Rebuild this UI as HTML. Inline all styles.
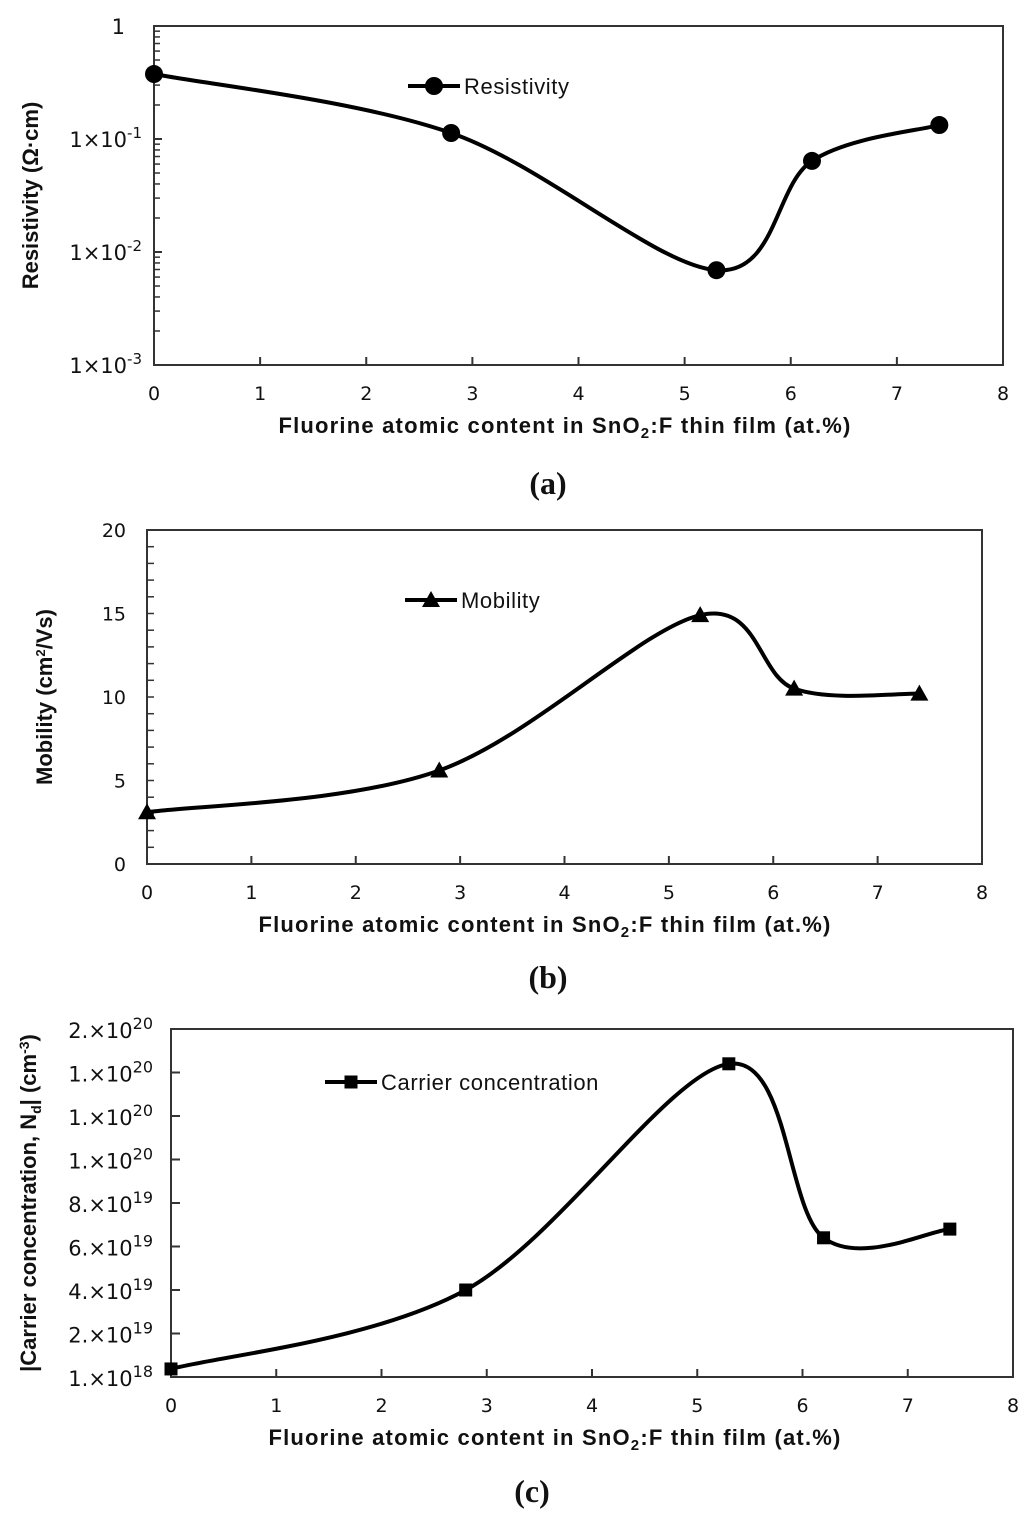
<!DOCTYPE html>
<html><head><meta charset="utf-8"><style>
html,body{margin:0;padding:0;background:#fff;}
svg{display:block;}
text{fill:#111;}
.tick{font-family:"DejaVu Sans","Liberation Sans",sans-serif;font-size:19px;}
.tickb{font-family:"DejaVu Sans","Liberation Sans",sans-serif;font-size:21px;}
.title{font-family:"Liberation Sans",sans-serif;font-weight:bold;font-size:22px;letter-spacing:1.2px;}
.ytitle{font-family:"Liberation Sans",sans-serif;font-weight:bold;font-size:22px;}
.leg{font-family:"Liberation Sans",sans-serif;font-size:22px;letter-spacing:0.6px;}
.pl{font-family:"Liberation Serif",serif;font-weight:bold;font-size:32px;}
</style></head><body>
<svg id="fig" width="1024" height="1518" viewBox="0 0 1024 1518"></svg>
<script>
// shared x data
const xValues = [0, 2.8, 5.3, 6.2, 7.4];
const xTicks = [0,1,2,3,4,5,6,7,8];
// panel a
const resistivity = [0.376, 0.113, 0.0069, 0.064, 0.133];
const resTicks = ["1","1×10-1","1×10-2","1×10-3"];
// panel b
const mobility = [3.1, 5.6, 14.9, 10.5, 10.2];
const mobTicks = [0,5,10,15,20];
// panel c (units of 1e19)
const carrier = [0.37, 4.0, 14.4, 6.4, 6.8];
const carTickVals = [0,2,4,6,8,10,12,14,16];
const carTickLabels = [["1.×10","18"],["2.×10","19"],["4.×10","19"],["6.×10","19"],["8.×10","19"],["1.×10","20"],["1.×10","20"],["1.×10","20"],["2.×10","20"]];

const NS="http://www.w3.org/2000/svg";
const svg=document.getElementById('fig');
function mk(tag,attrs,parent){const e=document.createElementNS(NS,tag);for(const k in attrs)e.setAttribute(k,attrs[k]);(parent||svg).appendChild(e);return e;}

function smoothPath(pts){
  let d=`M${pts[0][0]},${pts[0][1]}`;
  for(let i=0;i<pts.length-1;i++){
    const p0=pts[Math.max(0,i-1)],p1=pts[i],p2=pts[i+1],p3=pts[Math.min(pts.length-1,i+2)];
    const c1=[p1[0]+(p2[0]-p0[0])/6,p1[1]+(p2[1]-p0[1])/6];
    const c2=[p2[0]-(p3[0]-p1[0])/6,p2[1]-(p3[1]-p1[1])/6];
    d+=` C${c1[0]},${c1[1]} ${c2[0]},${c2[1]} ${p2[0]},${p2[1]}`;
  }
  return d;
}

function marker(g,type,x,y){
  let m;
  if(type==='circle') m=mk('circle',{cx:x,cy:y,r:9,fill:'#000'},g);
  else if(type==='tri') m=mk('path',{d:`M${x},${y-9} L${x+9},${y+7} L${x-9},${y+7} Z`,fill:'#000'},g);
  else m=mk('rect',{x:x-6.5,y:y-6.5,width:13,height:13,fill:'#000'},g);
  return m;
}

function panel(cfg){
  const g=mk('g',{});
  
  
  const xs=v=>cfg.L+(v-0)/8*(cfg.R-cfg.L);
  const b=mk('rect',{x:cfg.L,y:cfg.T,width:cfg.R-cfg.L,height:cfg.B-cfg.T,fill:'none',stroke:'#333','stroke-width':2},g);
  
  
  xTicks.forEach(t=>{
    const x=xs(t);
    if(t>0&&t<8) mk('line',{x1:x,x2:x,y1:cfg.B,y2:cfg.B-8,stroke:'#333','stroke-width':2},g);
    const tx=mk('text',{x:x,y:cfg.B+35,'text-anchor':'middle',class:'tick'},g);
    tx.textContent=t;
    
    
  });
  cfg.yAxis(g);
  const xt=mk('text',{x:cfg.xtX,y:cfg.B+68,'text-anchor':'middle',class:'title'},g);
  xt.innerHTML='Fluorine atomic content in SnO<tspan font-size="15" dy="5">2</tspan><tspan dy="-5">:F thin film (at.%)</tspan>';
  
  
  const yt=mk('text',{transform:`translate(${cfg.ytX},${(cfg.T+cfg.B)/2}) rotate(-90)`,'text-anchor':'middle',class:'ytitle'},g);
  yt.innerHTML=cfg.ytitle;
  
  
  const pts=xValues.map((v,i)=>[xs(v),cfg.ys(cfg.data[i])]);
  const ln=mk('path',{d:smoothPath(pts),fill:'none',stroke:'#000','stroke-width':4},g);
  
  
  pts.forEach(p=>{const m=marker(g,cfg.mk,p[0],p[1]);
    
    });
  const lg=mk('g',{},g);
  
  
  mk('line',{x1:cfg.lx,x2:cfg.lx+52,y1:cfg.ly,y2:cfg.ly,stroke:'#000','stroke-width':4},lg);
  marker(lg,cfg.mk,cfg.lx+26,cfg.ly);
  const lt=mk('text',{x:cfg.lx+56,y:cfg.ly+8,class:'leg'},lg);
  lt.textContent=cfg.leg;
  const pl=mk('text',{x:cfg.plX,y:cfg.plY,'text-anchor':'middle',class:'pl'},g);
  pl.textContent=cfg.pl;
  
  
}

// panel a (log)
(function(){
  const T=26,B=365;
  const ys=v=>T+(-Math.log10(v))*(B-T)/3;
  panel({name:'panel-a-resistivity',L:154,R:1003,T,B,ys,data:resistivity,mk:'circle',
    lx:408,ly:86,leg:'Resistivity',xtX:565,ytX:38,pl:'(a)',plX:548,plY:494,
    ytitle:'Resistivity (Ω·cm)',
    yAxis:g=>{
      for(let d=0;d<3;d++)for(let k=2;k<=9;k++){const y=ys(Math.pow(10,-d-1)*k);
        mk('line',{x1:154,x2:160,y1:y,y2:y,stroke:'#333','stroke-width':1.5},g);}
      resTicks.forEach((lab,i)=>{const y=T+i*(B-T)/3;
        if(i>0&&i<3) mk('line',{x1:154,x2:162,y1:y,y2:y,stroke:'#333','stroke-width':2},g);
        const t=mk('text',{x:i==0?125:142,y:y+8,'text-anchor':'end',class:'tickb'},g);
        const parts=lab.split('-');
        if(parts.length>1) t.innerHTML=parts[0]+'<tspan font-size="15" dy="-9">-'+parts[1]+'</tspan>';
        else t.textContent=lab;
        
        
      });
    }});
})();

// panel b
(function(){
  const T=530,B=864;
  const ys=v=>B-v/20*(B-T);
  panel({name:'panel-b-mobility',L:147,R:982,T,B,ys,data:mobility,mk:'tri',
    lx:405,ly:600,leg:'Mobility',xtX:545,ytX:52,pl:'(b)',plX:548,plY:988,
    ytitle:'Mobility (cm<tspan font-size="13" dy="-7">2</tspan><tspan dy="7">/Vs)</tspan>',
    yAxis:g=>{
      for(let v=1;v<20;v++){const y=ys(v);mk('line',{x1:147,x2:154,y1:y,y2:y,stroke:'#333','stroke-width':1.5},g);}
      mobTicks.forEach(v=>{const y=ys(v);
        const t=mk('text',{x:126,y:y+7,'text-anchor':'end',class:'tick'},g);t.textContent=v;
        
        });
    }});
})();

// panel c
(function(){
  const T=1029,B=1377;
  const ys=v=>B-v/16*(B-T);
  panel({name:'panel-c-carrier',L:171,R:1013,T,B,ys,data:carrier,mk:'sq',
    lx:325,ly:1082,leg:'Carrier concentration',xtX:555,ytX:36,pl:'(c)',plX:532,plY:1502,
    ytitle:'|Carrier concentration, N<tspan font-size="14" dy="5">d</tspan><tspan dy="-5">| (cm</tspan><tspan font-size="14" dy="-7">-3</tspan><tspan dy="7">)</tspan>',
    yAxis:g=>{
      carTickVals.forEach((v,i)=>{const y=ys(v);
        if(i>0&&i<carTickVals.length-1) mk('line',{x1:171,x2:180,y1:y,y2:y,stroke:'#333','stroke-width':2},g);
        const t=mk('text',{x:153,y:y+9,'text-anchor':'end',class:'tickb'},g);
        t.innerHTML=carTickLabels[i][0]+'<tspan font-size="16" dy="-9">'+carTickLabels[i][1]+'</tspan>';
        
        });
    }});
})();
</script>
</body></html>
